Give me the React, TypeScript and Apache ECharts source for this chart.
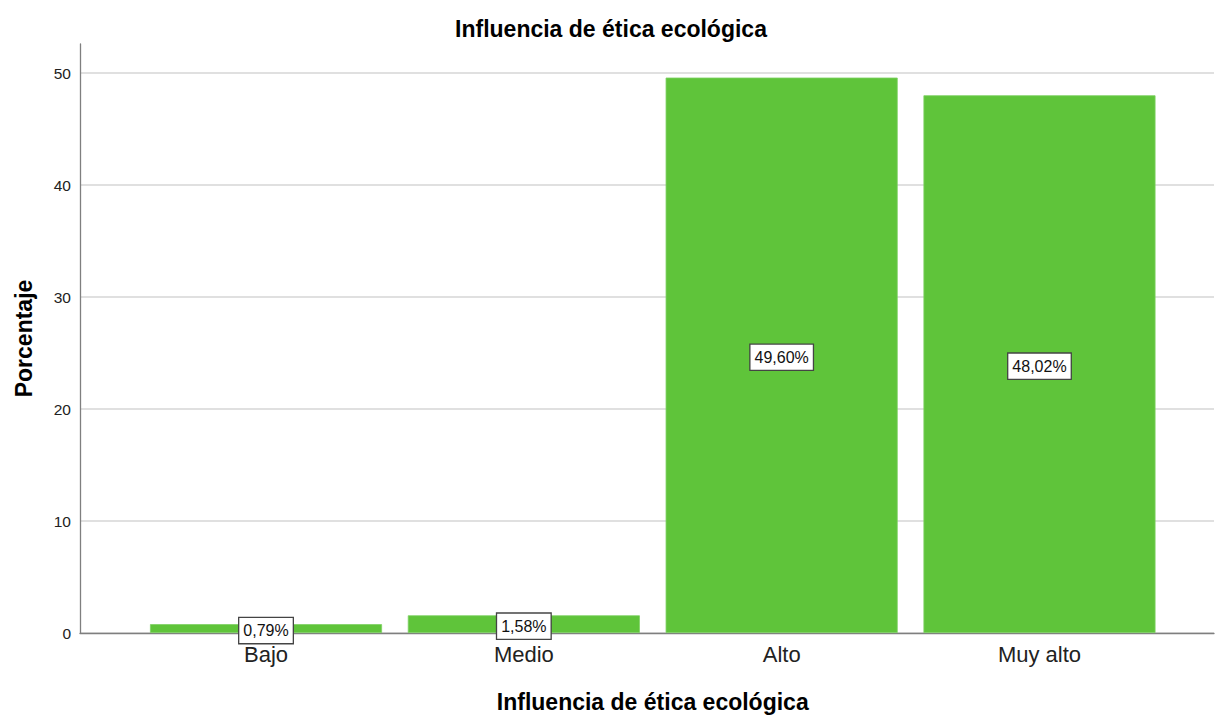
import React, { useEffect, useRef } from "react";
import * as echarts from "echarts";

const categories = ["Bajo", "Medio", "Alto", "Muy alto"];
const percentages = [0.79, 1.58, 49.6, 48.02];
const yMin = 0;
const yMax = 52.6;
const yInterval = 10;

const titleText = "Influencia de ética ecológica";
const xName = "Influencia de ética ecológica";
const yName = "Porcentaje";

const FONT = '"Liberation Sans", Arial, sans-serif';

export default function App() {
  const ref = useRef<HTMLDivElement>(null);

  useEffect(() => {
    if (!ref.current) return;
    const chart = echarts.init(ref.current, null, { renderer: "svg" });
    const option: any = {
      animation: false,
      backgroundColor: "#ffffff",
      textStyle: { fontFamily: FONT },
      graphic: [
        {
          type: "text",
          x: 611,
          y: 29,
          style: {
            text: titleText,
            font: `bold 23px ${FONT}`,
            fill: "#000000",
            textAlign: "center",
            textVerticalAlign: "middle",
          },
        },
      ],
      grid: [
        { left: 80, right: 1, top: 44, bottom: 82, outerBoundsMode: "none", containLabel: false },
        { left: 137.1, right: 46.6, top: 44, bottom: 82, outerBoundsMode: "none", containLabel: false },
      ],
      xAxis: [
        {
          type: "category",
          gridIndex: 0,
          data: [""],
          axisLine: { show: true, lineStyle: { color: "#7f7f7f", width: 1.3 } },
          axisTick: { show: false },
          axisLabel: { show: false },
          splitLine: { show: false },
        },
        {
          type: "category",
          gridIndex: 1,
          data: categories,
          axisLine: { show: false },
          axisTick: { show: false },
          axisLabel: {
            show: true,
            margin: 10,
            fontSize: 22,
            color: "#222222",
            fontFamily: FONT,
          },
          name: xName,
          nameLocation: "middle",
          nameGap: 57,
          nameTextStyle: {
            fontSize: 23,
            fontWeight: "bold",
            color: "#000000",
            fontFamily: FONT,
          },
        },
      ],
      yAxis: [
        {
          type: "value",
          gridIndex: 0,
          min: yMin,
          max: yMax,
          interval: yInterval,
          axisLine: { show: true, lineStyle: { color: "#7f7f7f", width: 1.3 } },
          axisTick: { show: false },
          axisLabel: {
            margin: 9,
            fontSize: 15.5,
            color: "#222222",
            fontFamily: FONT,
            showMaxLabel: false,
            formatter: (v: number) => (v % 10 === 0 ? String(v) : ""),
          },
          splitLine: {
            show: true,
            showMaxLine: false,
            lineStyle: { color: "#d6d6d6", width: 1.6 },
          },
          name: yName,
          nameLocation: "middle",
          nameGap: 45,
          nameRotate: 90,
          nameTextStyle: {
            fontSize: 23,
            fontWeight: "bold",
            color: "#000000",
            fontFamily: FONT,
          },
        },
        {
          type: "value",
          gridIndex: 1,
          min: yMin,
          max: yMax,
          interval: yInterval,
          show: false,
          splitLine: { show: false },
        },
      ],
      series: [
        {
          type: "bar",
          xAxisIndex: 1,
          yAxisIndex: 1,
          data: percentages,
          barCategoryGap: "10%",
          itemStyle: {
            color: "#5fc43a",
            borderColor: "#7dd162",
            borderWidth: 0.8,
          },
          label: {
            show: true,
            position: "inside",
            offset: [0, 2],
            formatter: (p: any) => p.value.toFixed(2).replace(".", ",") + "%",
            fontSize: 16,
            color: "#111111",
            fontFamily: FONT,
            backgroundColor: "#ffffff",
            borderColor: "#444444",
            borderWidth: 1.3,
            padding: [4, 4, 3, 4],
            lineHeight: 18,
          },
        },
      ],
    };
    chart.setOption(option);
    return () => chart.dispose();
  }, []);

  return (
    <div
      ref={ref}
      style={{ position: "absolute", left: 0, top: 0, width: 1215, height: 715 }}
    />
  );
}
